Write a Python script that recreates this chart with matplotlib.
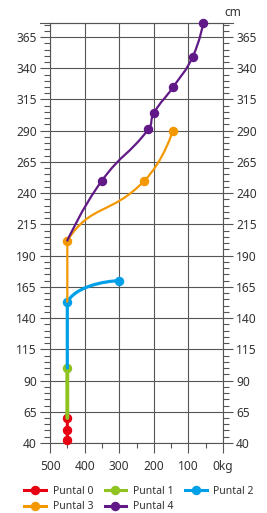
import numpy as np
import matplotlib
matplotlib.use("Agg")
import matplotlib.pyplot as plt
from matplotlib.path import Path
from matplotlib.patches import PathPatch
from matplotlib.lines import Line2D
from matplotlib.ticker import FixedLocator, MultipleLocator

plt.rcParams["font.family"] = ["Noto Sans", "DejaVu Sans"]

# load (kg) against height (cm) for each strut
series_names = ["Puntal 0", "Puntal 1", "Puntal 2", "Puntal 3", "Puntal 4"]
colors = ["#e60012", "#8fc31f", "#00a0e9", "#f39800", "#601986"]

puntal0_kg = [450, 450, 450]
puntal0_cm = [42, 50, 60]
puntal1_kg = [450, 450]
puntal1_cm = [60, 100]
puntal2_kg = [450, 450, 300]
puntal2_cm = [100, 153, 170]
puntal3_kg = [450, 450, 227, 145]
puntal3_cm = [153, 202, 250, 290]
puntal4_kg = [450, 350, 216, 200, 144, 88, 57]
puntal4_cm = [202, 250, 291, 304, 325, 349, 376]

x_ticks = [500, 400, 300, 200, 100, 0]
x_tick_labels = ["500", "400", "300", "200", "100", "0kg"]
y_ticks = [40, 65, 90, 115, 140, 165, 190, 215, 240, 265, 290, 315, 340, 365]

series = [
    (puntal0_kg, puntal0_cm),
    (puntal1_kg, puntal1_cm),
    (puntal2_kg, puntal2_cm),
    (puntal3_kg, puntal3_cm),
    (puntal4_kg, puntal4_cm),
]
line_widths = [2.2, 2.8, 2.3, 1.6, 1.6]


def smooth_path(ax, xs, ys, smooth=0.5):
    # bezier smoothing in screen space, control points kept inside
    # the bounding box of the series
    pts = ax.transData.transform(np.column_stack([xs, ys]))
    lo = pts.min(axis=0)
    hi = pts.max(axis=0)
    n = len(pts)
    cps = []
    for i in range(n):
        if i == 0 or i == n - 1:
            cps.append(pts[i].copy())
            continue
        prev, cur, nxt = pts[i - 1], pts[i], pts[i + 1]
        v = (nxt - prev) * smooth
        d0 = np.hypot(*(cur - prev))
        d1 = np.hypot(*(nxt - cur))
        s = d0 + d1
        if s:
            d0, d1 = d0 / s, d1 / s
        cps.append(np.clip(cur - v * d0, lo, hi))
        cps.append(np.clip(cur + v * d1, lo, hi))
    verts = [pts[0]]
    codes = [Path.MOVETO]
    for i in range(1, n):
        verts += [cps[2 * i - 2], cps[2 * i - 1], pts[i]]
        codes += [Path.CURVE4] * 3
    verts = ax.transData.inverted().transform(np.array(verts))
    return Path(verts, codes)


fig = plt.figure(figsize=(2.67, 5.13), dpi=100)
ax = fig.add_axes([0.1873, 0.1365, 0.8352 - 0.1873, 0.9546 - 0.1365])
ax.set_xlim(500, 0)
ax.set_ylim(40, 376)

grid_color = "#555555"
for sp in ax.spines.values():
    sp.set_color(grid_color)
    sp.set_linewidth(0.8)

ax.xaxis.set_major_locator(FixedLocator(x_ticks))
ax.set_xticklabels(x_tick_labels)
ax.xaxis.set_minor_locator(FixedLocator([450, 350, 250, 150, 50]))
ax.yaxis.set_major_locator(FixedLocator(y_ticks))
ax.yaxis.set_minor_locator(MultipleLocator(5))

ax.tick_params(axis="x", which="major", length=7, width=0.8, color=grid_color,
               labelsize=8.6, labelcolor="#333333", pad=5)
ax.tick_params(axis="x", which="minor", length=3.5, width=0.8, color=grid_color)
ax.tick_params(axis="y", which="both", left=True, right=True,
               labelleft=True, labelright=True, width=0.8, color=grid_color)
ax.tick_params(axis="y", which="major", length=7, labelsize=8.6,
               labelcolor="#333333", pad=2.5)
ax.tick_params(axis="y", which="minor", length=4.5)

ax.grid(which="major", color=grid_color, linewidth=0.8)
ax.set_axisbelow(True)

# top edge sticks out like the ticks
ax.plot([-0.058, 1.058], [1, 1], transform=ax.transAxes, color=grid_color,
        lw=0.8, clip_on=False)

handles = []
for k, ((kg, cm), c, lw) in enumerate(zip(series, colors, line_widths)):
    patch = PathPatch(smooth_path(ax, kg, cm), facecolor="none", edgecolor=c,
                      lw=lw, zorder=3 + 2 * k, capstyle="round", joinstyle="round")
    ax.add_patch(patch)
    start = 0 if k == 0 else 1
    ax.plot(kg[start:], cm[start:], linestyle="none", marker="o", ms=5.8,
            color=c, zorder=4 + 2 * k, clip_on=False)
    handles.append(Line2D([], [], color=c, lw=2.2, marker="o", ms=5.8))

fig.text(233 / 267, 1 - 12 / 513, "cm", ha="center", va="center",
         fontsize=8.6, color="#333333")

order = [0, 3, 1, 4, 2]
leg = fig.legend([handles[i] for i in order], [series_names[i] for i in order],
                 ncol=3, loc="center", bbox_to_anchor=(0.52, 0.027),
                 frameon=False, fontsize=7.5, handlelength=2.1,
                 handletextpad=0.6, columnspacing=1.1, labelspacing=0.45,
                 borderpad=0, borderaxespad=0)
for t in leg.get_texts():
    t.set_color("#333333")

plt.savefig("out.png", dpi=100)
